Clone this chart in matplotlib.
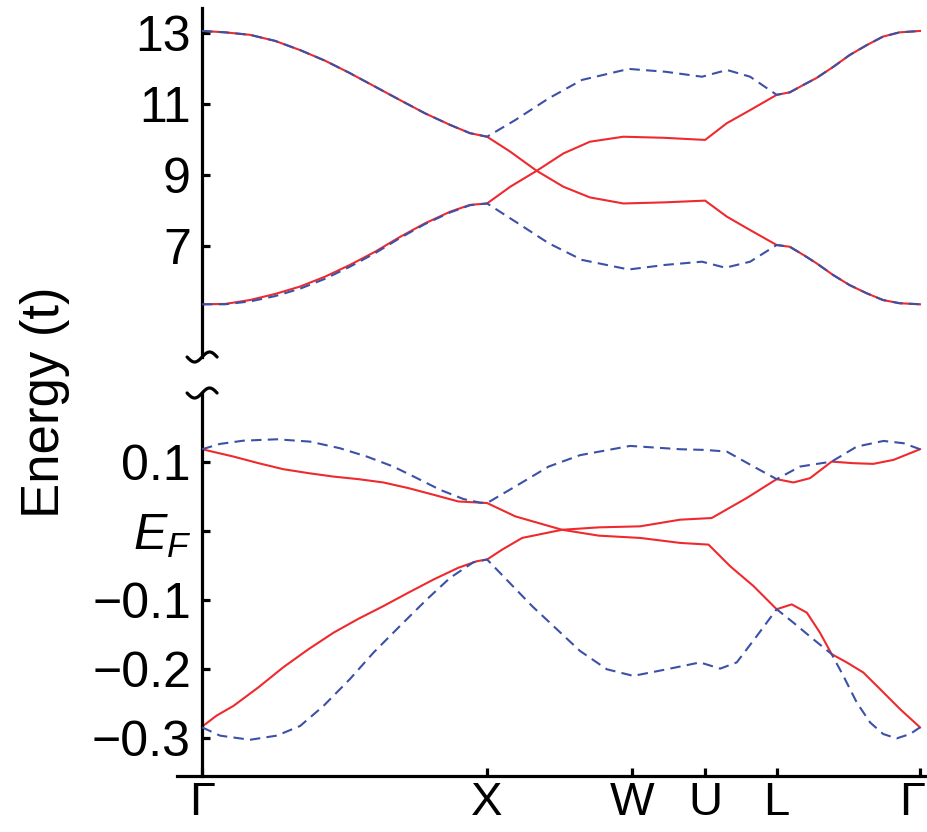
import numpy as np
import matplotlib.pyplot as plt
from matplotlib import transforms

plt.rcParams['font.family'] = ['Liberation Sans', 'DejaVu Sans']
plt.rcParams['mathtext.fontset'] = 'custom'
plt.rcParams['mathtext.it'] = 'Liberation Sans:italic'
plt.rcParams['mathtext.rm'] = 'Liberation Sans'

# =========================
# DATA
# =========================
# high-symmetry points along the k-path
sym_labels = ['Γ', 'X', 'W', 'U', 'L', 'Γ']
sym_k = [0.0, 1.0, 1.508, 1.765, 2.016, 2.519]

# upper block of bands, energy in units of t
top_red_a_k = [0, 0.081, 0.168, 0.256, 0.344, 0.432, 0.519, 0.607, 0.695, 0.782, 0.871, 0.94,
               1.0, 1.081, 1.174, 1.268, 1.361, 1.478, 1.619, 1.765, 1.841, 1.923, 2.016,
               2.062, 2.110, 2.155, 2.215, 2.272, 2.332, 2.389, 2.447, 2.519]
top_red_a_e = [13.05, 13.01, 12.94, 12.77, 12.51, 12.21, 11.86, 11.48, 11.10, 10.73, 10.40, 10.17,
               10.07, 9.65, 9.11, 8.66, 8.36, 8.19, 8.22, 8.27, 7.82, 7.44, 7.02,
               6.97, 6.74, 6.51, 6.17, 5.89, 5.66, 5.47, 5.38, 5.35]

top_red_b_k = [0, 0.081, 0.168, 0.256, 0.344, 0.432, 0.519, 0.607, 0.695, 0.782, 0.871, 0.94,
               1.0, 1.081, 1.174, 1.268, 1.361, 1.478, 1.619, 1.765, 1.841, 1.923, 2.016,
               2.062, 2.110, 2.155, 2.215, 2.272, 2.332, 2.389, 2.447, 2.519]
top_red_b_e = [5.35, 5.36, 5.47, 5.64, 5.85, 6.13, 6.46, 6.83, 7.25, 7.63, 7.96, 8.15,
               8.19, 8.66, 9.11, 9.60, 9.93, 10.07, 10.04, 9.98, 10.45, 10.82, 11.25,
               11.32, 11.53, 11.72, 12.04, 12.37, 12.65, 12.89, 13.01, 13.05]

top_blue_a_k = [0, 0.081, 0.168, 0.256, 0.344, 0.432, 0.519, 0.607, 0.695, 0.782, 0.871, 0.94,
                1.0, 1.099, 1.216, 1.333, 1.497, 1.626, 1.754, 1.842, 1.923, 2.016,
                2.062, 2.110, 2.155, 2.215, 2.272, 2.332, 2.389, 2.447, 2.519]
top_blue_a_e = [13.05, 13.01, 12.94, 12.77, 12.51, 12.21, 11.86, 11.48, 11.10, 10.73, 10.40, 10.17,
                10.07, 10.54, 11.15, 11.67, 11.98, 11.90, 11.76, 11.95, 11.76, 11.25,
                11.32, 11.53, 11.72, 12.04, 12.37, 12.65, 12.89, 13.01, 13.05]

top_blue_b_k = [0, 0.081, 0.168, 0.256, 0.344, 0.432, 0.519, 0.607, 0.695, 0.782, 0.871, 0.94,
                1.0, 1.099, 1.216, 1.333, 1.497, 1.626, 1.754, 1.836, 1.923, 2.016,
                2.062, 2.110, 2.155, 2.215, 2.272, 2.332, 2.389, 2.447, 2.519]
top_blue_b_e = [5.35, 5.35, 5.43, 5.58, 5.79, 6.07, 6.41, 6.79, 7.22, 7.61, 7.94, 8.14,
                8.19, 7.68, 7.07, 6.60, 6.33, 6.46, 6.55, 6.38, 6.55, 7.02,
                6.97, 6.74, 6.51, 6.17, 5.89, 5.66, 5.47, 5.38, 5.35]

# low-energy block around E_F
bot_red_a_k = [0, 0.11, 0.198, 0.285, 0.373, 0.461, 0.548, 0.636, 0.724, 0.812, 0.899, 1.0,
               1.099, 1.263, 1.392, 1.537, 1.677, 1.777, 1.853, 1.935, 2.016, 2.069, 2.122,
               2.168, 2.209, 2.262, 2.320, 2.379, 2.449, 2.519]
bot_red_a_e = [0.1186, 0.108, 0.0984, 0.0897, 0.084, 0.079, 0.0753, 0.0705, 0.0623, 0.0527,
               0.043, 0.0407, 0.0214, 0.002, -0.0065, -0.0098, -0.017, -0.0195, -0.0508,
               -0.0796, -0.113, -0.106, -0.118, -0.147, -0.178, -0.190, -0.2046, -0.2287,
               -0.2576, -0.284]

bot_red_b_k = [0, 0.051, 0.11, 0.198, 0.285, 0.373, 0.461, 0.548, 0.636, 0.724, 0.812, 0.899,
               0.964, 1.0, 1.053, 1.123, 1.263, 1.392, 1.537, 1.677, 1.788, 1.911, 2.016,
               2.075, 2.133, 2.209, 2.285, 2.355, 2.426, 2.519]
bot_red_b_e = [-0.283, -0.267, -0.253, -0.226, -0.197, -0.171, -0.147, -0.127, -0.1085, -0.089,
               -0.070, -0.053, -0.0435, -0.041, -0.0267, -0.0098, 0.002, 0.0055, 0.007, 0.0166,
               0.019, 0.048, 0.0753, 0.0705, 0.0767, 0.1007, 0.0984, 0.0974, 0.1032, 0.1186]

bot_blue_a_k = [0, 0.063, 0.145, 0.262, 0.379, 0.484, 0.578, 0.671, 0.754, 0.835, 0.917, 0.976,
                1.0, 1.099, 1.216, 1.326, 1.502, 1.677, 1.765, 1.841, 1.935, 2.016, 2.098,
                2.209, 2.297, 2.391, 2.461, 2.519]
bot_blue_a_e = [0.1186, 0.1263, 0.131, 0.133, 0.1296, 0.120, 0.108, 0.0935, 0.0767, 0.0599,
                0.0465, 0.0412, 0.0407, 0.0647, 0.0935, 0.110, 0.1234, 0.1186, 0.1176, 0.1152,
                0.0935, 0.0753, 0.0935, 0.1007, 0.1224, 0.1306, 0.1273, 0.1186]

bot_blue_b_k = [0, 0.063, 0.168, 0.262, 0.344, 0.426, 0.519, 0.601, 0.695, 0.788, 0.870, 0.952,
                1.0, 1.158, 1.326, 1.42, 1.513, 1.631, 1.747, 1.818, 1.876, 1.946, 2.016,
                2.075, 2.145, 2.209, 2.25, 2.297, 2.344, 2.39, 2.437, 2.484, 2.519]
bot_blue_b_e = [-0.284, -0.296, -0.302, -0.296, -0.282, -0.253, -0.214, -0.176, -0.137, -0.099,
                -0.0676, -0.045, -0.041, -0.1085, -0.1734, -0.1999, -0.2095, -0.1999, -0.190,
                -0.199, -0.190, -0.152, -0.113, -0.1325, -0.1566, -0.178, -0.2095, -0.248,
                -0.277, -0.2937, -0.300, -0.2937, -0.284]

top_ticks = [7, 9, 11, 13]
top_tick_labels = ['7', '9', '11', '13']
bot_ticks = [0.1, 0.0, -0.1, -0.2, -0.3]
bot_tick_labels = ['0.1', '$E_F$', '\u22120.1', '\u22120.2', '\u22120.3']

# =========================
# STYLE
# =========================
RED = '#ee2a2e'
BLUE = '#3c50a8'
LW = 1.5
DASH = (0, (5, 3))
SPINE_W = 2.3
TICK_FS = 36

fig = plt.figure(figsize=(9.28, 8.32), dpi=100)
ax_top = fig.add_axes([177 / 928, 1 - 357 / 832, 751 / 928, 349 / 832])
ax_bot = fig.add_axes([177 / 928, 1 - 775.7 / 832, 751 / 928, 382.7 / 832])

for ax in (ax_top, ax_bot):
    ax.set_xlim(-0.088, 2.547)
    ax.spines['top'].set_visible(False)
    ax.spines['right'].set_visible(False)
    ax.spines['left'].set_position(('data', 0))
    ax.spines['left'].set_linewidth(SPINE_W)
    ax.spines['bottom'].set_linewidth(SPINE_W)
    ax.tick_params(axis='both', direction='in', length=6, width=SPINE_W,
                   labelsize=TICK_FS, pad=8)
    ax.set_facecolor('none')

# upper block
ax_top.plot(top_red_a_k, top_red_a_e, color=RED, lw=LW, zorder=2)
ax_top.plot(top_red_b_k, top_red_b_e, color=RED, lw=LW, zorder=2)
ax_top.plot(top_blue_a_k, top_blue_a_e, color=BLUE, lw=LW, ls=DASH, zorder=3)
ax_top.plot(top_blue_b_k, top_blue_b_e, color=BLUE, lw=LW, ls=DASH, zorder=3)
ax_top.set_ylim(3.865, 13.696)
ax_top.set_yticks(top_ticks)
ax_top.set_yticklabels(top_tick_labels)
ax_top.spines['bottom'].set_visible(False)
ax_top.set_xticks([])

# low-energy block
ax_bot.plot(bot_red_a_k, bot_red_a_e, color=RED, lw=LW, zorder=2)
ax_bot.plot(bot_red_b_k, bot_red_b_e, color=RED, lw=LW, zorder=2)
ax_bot.plot(bot_blue_a_k, bot_blue_a_e, color=BLUE, lw=LW, ls=DASH, zorder=3)
ax_bot.plot(bot_blue_b_k, bot_blue_b_e, color=BLUE, lw=LW, ls=DASH, zorder=3)
ax_bot.set_ylim(-0.354, 0.2)
ax_bot.set_yticks(bot_ticks)
ax_bot.set_yticklabels(bot_tick_labels)
ax_bot.set_xticks(sym_k)
ax_bot.set_xticklabels(sym_labels)
ax_bot.tick_params(axis='x', pad=4, labelsize=34)

# keep the last Γ inside the canvas
last_lbl = ax_bot.get_xticklabels()[-1]
last_lbl.set_transform(last_lbl.get_transform()
                       + transforms.ScaledTranslation(-8 / 100, 0, fig.dpi_scale_trans))


# squiggly break marks at the ends of the left spines
def draw_break(ax, y_axes):
    base = transforms.blended_transform_factory(ax.transData, ax.transAxes)
    trans = fig.dpi_scale_trans + transforms.ScaledTranslation(0, y_axes, base)
    w = 0.15
    xs = np.linspace(-w, w, 60)
    ys = 0.05 * np.sin(np.pi * xs / w)
    ax.plot(xs, ys, color='black', lw=SPINE_W, transform=trans, clip_on=False,
            solid_capstyle='round')


draw_break(ax_top, 0.0)
draw_break(ax_bot, 1.0)

fig.text(45 / 928, 1 - 402 / 832, 'Energy (t)', rotation=90, fontsize=38,
         ha='center', va='center')

fig.savefig('out.png', dpi=100)
